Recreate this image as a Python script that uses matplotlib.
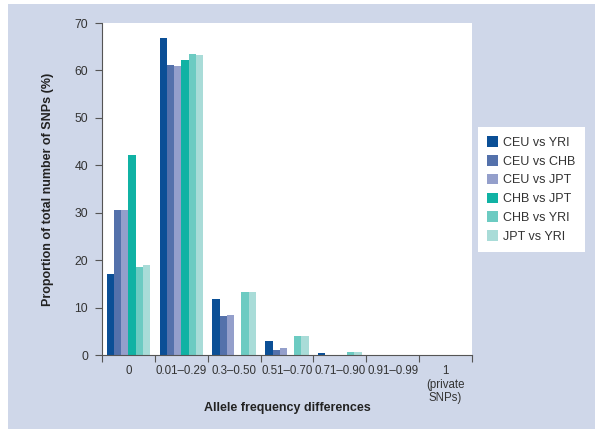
import numpy as np
import matplotlib
matplotlib.use("Agg")
import matplotlib.pyplot as plt
from matplotlib.patches import Rectangle

plt.rcParams["font.family"] = ["Liberation Sans", "DejaVu Sans"]

# Allele frequency difference bins
categories = ["0", "0.01\u20130.29", "0.3\u20130.50", "0.51\u20130.70",
              "0.71\u20130.90", "0.91\u20130.99", "1\n(private\nSNPs)"]

series_names = ["CEU vs YRI", "CEU vs CHB", "CEU vs JPT",
                "CHB vs JPT", "CHB vs YRI", "JPT vs YRI"]

ceu_yri = [17.1, 66.8, 11.8, 3.0, 0.45, 0, 0]
ceu_chb = [30.6, 61.1, 8.2, 1.1, 0, 0, 0]
ceu_jpt = [30.6, 60.9, 8.4, 1.4, 0, 0, 0]
chb_jpt = [42.2, 62.3, 0, 0, 0, 0, 0]
chb_yri = [18.6, 63.5, 13.2, 4.1, 0.7, 0, 0]
jpt_yri = [18.9, 63.3, 13.2, 4.1, 0.7, 0, 0]

series = [ceu_yri, ceu_chb, ceu_jpt, chb_jpt, chb_yri, jpt_yri]
colors = ["#0b4f96", "#5471ab", "#949fcb", "#10b2a4", "#6ccbc2", "#a9dcd8"]

W, H = 601, 432
fig = plt.figure(figsize=(W / 100, H / 100), dpi=100)
fig.patch.set_facecolor("white")

# lavender panel behind everything
fig.patches.append(Rectangle((8 / W, 3 / H), 587 / W, 425 / H,
                             transform=fig.transFigure, facecolor="#cfd7e9",
                             edgecolor="none", zorder=-10))

ax = fig.add_axes([102 / W, (H - 355) / H, 370 / W, 332 / H])
ax.set_facecolor("white")

n = len(series)
bw = 0.137
x = np.arange(len(categories)) + 0.5
for j, (vals, c, name) in enumerate(zip(series, colors, series_names)):
    ax.bar(x + (j - (n - 1) / 2) * bw, vals, width=bw, color=c,
           edgecolor="none", label=name, zorder=2)

ax.set_xlim(0, len(categories))
ax.set_ylim(0, 70)
ax.set_yticks(range(0, 71, 10))

# boundary ticks (major) and centred labels (minor)
ax.set_xticks(np.arange(len(categories) + 1))
ax.set_xticklabels([])
ax.set_xticks(x, minor=True)
ax.set_xticklabels(categories, minor=True, linespacing=1.2)

spine_c = "#555555"
for s in ["top", "right"]:
    ax.spines[s].set_visible(False)
for s in ["left", "bottom"]:
    ax.spines[s].set_color(spine_c)
    ax.spines[s].set_linewidth(0.8)

ax.tick_params(axis="both", which="major", length=5, width=0.8,
               color=spine_c, labelsize=8.8, labelcolor="#333333", pad=5)
ax.tick_params(axis="x", which="minor", length=0, labelsize=8.3,
               labelcolor="#333333", pad=7)

ax.set_ylabel("Proportion of total number of SNPs (%)", fontsize=9,
              fontweight="bold", color="#222222", labelpad=15)
fig.text(287 / W, (H - 408) / H, "Allele frequency differences",
         ha="center", va="center", fontsize=9, fontweight="bold",
         color="#222222")

leg = ax.legend(loc="center", bbox_to_anchor=(531.5 / W, (H - 189.5) / H),
                bbox_transform=fig.transFigure, frameon=True, fancybox=False,
                fontsize=9, handlelength=0.9, handleheight=0.9,
                handletextpad=0.4, labelspacing=0.5, borderpad=0.75,
                borderaxespad=0)
leg.get_frame().set_facecolor("white")
leg.get_frame().set_edgecolor("none")
leg.get_frame().set_alpha(1)
for t in leg.get_texts():
    t.set_color("#333333")

fig.savefig("out.png", dpi=100)
